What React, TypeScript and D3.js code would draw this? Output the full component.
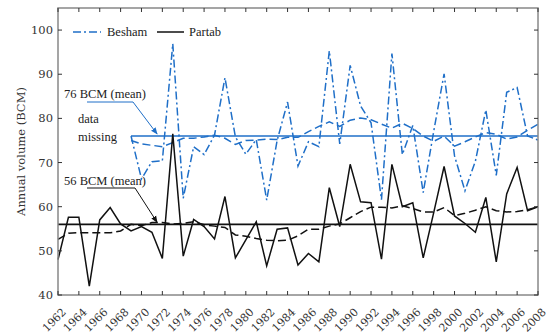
import * as d3 from "d3";

// years on the x axis
const partabYears = d3.range(1962, 2009);
const beshamYears = d3.range(1969, 2009);

const partab = [
  48.0, 57.6, 57.6, 42.0, 57.0, 59.8, 56.1, 54.5, 55.5, 54.2,
  48.3, 76.5, 48.8, 57.1, 55.5, 52.7, 62.3, 48.4, 52.5, 56.6,
  46.6, 54.9, 55.2, 46.8, 49.4, 47.5, 64.3, 55.5, 69.6, 61.1,
  60.9, 48.1, 69.6, 60.0, 60.9, 48.4, 58.6, 69.1, 57.9, 56.2,
  54.2, 62.1, 47.5, 62.9, 68.9, 59.1, 60.0,
];
const partabAvg = [
  52.6, 54.0, 54.1, 54.1, 54.1, 54.1, 54.5, 56.0, 55.7, 56.4,
  56.4, 56.1, 56.2, 56.6, 55.9, 55.6, 55.3, 53.6, 53.3, 52.8,
  52.4, 52.3, 52.4, 53.4, 54.9, 54.9, 55.6, 56.1, 57.5, 58.9,
  59.9, 59.9, 59.7, 60.2, 59.6, 58.8, 58.8, 59.8, 58.0, 58.5,
  59.2, 60.0, 59.1, 58.8, 58.9, 59.3, 60.0,
];
const besham = [
  76.0, 66.3, 70.2, 70.4, 96.9, 61.9, 73.6, 71.8, 76.2, 89.2,
  75.8, 71.9, 75.2, 61.5, 75.0, 83.7, 69.2, 74.7, 73.6, 95.3,
  74.2, 92.0, 82.8, 79.0, 61.6, 94.7, 71.8, 78.4, 63.2, 77.0,
  90.1, 71.5, 63.6, 70.3, 81.9, 67.1, 85.9, 87.0, 76.0, 75.1,
];
const beshamAvg = [
  75.0, 74.2, 73.9, 73.6, 74.5, 75.5, 75.5, 75.8, 76.2, 75.5,
  74.1, 75.0, 75.1, 75.3, 75.2, 75.7, 75.7, 77.0, 78.2, 79.2,
  78.2, 79.6, 80.1, 79.7, 78.7, 77.8, 78.9, 77.7, 76.0, 74.8,
  76.0, 73.7, 74.7, 75.8, 76.8, 76.4, 75.3, 75.8, 77.3, 78.7,
];
const beshamMean = 76;
const partabMean = 56;

const yTicks = [40, 50, 60, 70, 80, 90, 100];
const xTicks = d3.range(1962, 2009, 2);

const BLUE = "#1f6fc8";
const NUM_FONT = "'DejaVu Serif', serif";
const WORD_FONT = "'Liberation Serif', 'DejaVu Serif', serif";

export default function App() {
  const W = 550, H = 335;
  const left = 58, right = 538, top = 8, bottom = 295;
  const x = d3.scaleLinear().domain([1962, 2008]).range([left, right]);
  const y = d3.scaleLinear().domain([40, 105]).range([bottom, top]);

  const line = d3.line<[number, number]>().x((d) => x(d[0])).y((d) => y(d[1]));
  const pts = (yrs: number[], vals: number[]) => yrs.map((yr, i) => [yr, vals[i]] as [number, number]);
  const num = { fontFamily: NUM_FONT };
  const word = { fontFamily: WORD_FONT };

  return (
    <svg width={W} height={H} style={{ position: "absolute", left: 0, top: 0, background: "#fff" }}>
      {/* mean lines */}
      <line x1={x(1969)} x2={x(2008)} y1={y(beshamMean)} y2={y(beshamMean)} stroke={BLUE} strokeWidth={1.6} />
      <line x1={x(1962)} x2={x(2008)} y1={y(partabMean)} y2={y(partabMean)} stroke="#111" strokeWidth={1.6} />

      {/* moving averages */}
      <path d={line(pts(beshamYears, beshamAvg)) ?? ""} fill="none" stroke={BLUE} strokeWidth={1.5} strokeDasharray="8,4" />
      <path d={line(pts(partabYears, partabAvg)) ?? ""} fill="none" stroke="#111" strokeWidth={1.5} strokeDasharray="8,4" />

      {/* series */}
      <path d={line(pts(beshamYears, besham)) ?? ""} fill="none" stroke={BLUE} strokeWidth={1.5} strokeDasharray="8,3,2,3" />
      <path d={line(pts(partabYears, partab)) ?? ""} fill="none" stroke="#111" strokeWidth={1.5} />

      {/* frame + ticks */}
      <rect x={left} y={top} width={right - left} height={bottom - top} fill="none" stroke="#888" strokeWidth={1.5} />
      {xTicks.map((t) => (
        <g key={t}>
          <line x1={x(t)} x2={x(t)} y1={bottom} y2={bottom - 4} stroke="#333" />
          <line x1={x(t)} x2={x(t)} y1={top} y2={top + 4} stroke="#333" />
          <text transform={`translate(${x(t) + 6},${bottom + 15}) rotate(-45)`} textAnchor="end" dy="0.35em"
                fontSize={11} fill="#333" style={num}>{t}</text>
        </g>
      ))}
      {yTicks.map((t) => (
        <g key={t}>
          <line x1={left} x2={left + 4} y1={y(t)} y2={y(t)} stroke="#333" />
          <line x1={right} x2={right - 4} y1={y(t)} y2={y(t)} stroke="#333" />
          <text x={left - 5} y={y(t)} dy="0.35em" textAnchor="end" fontSize={11.5} fill="#333" style={num}>{t}</text>
        </g>
      ))}
      <text transform={`translate(21,${(top + bottom) / 2}) rotate(-90)`} textAnchor="middle" dy="0.35em"
            fontSize={11.5} fill="#333" style={num}>Annual volume (BCM)</text>

      {/* legend */}
      <line x1={73} x2={101} y1={32} y2={32} stroke={BLUE} strokeWidth={1.5} strokeDasharray="8,3,2,3" />
      <text x={107} y={36} fontSize={12.5} fill="#222" style={word}>Besham</text>
      <line x1={157} x2={184} y1={32} y2={32} stroke="#111" strokeWidth={1.5} />
      <text x={189} y={36} fontSize={12.5} fill="#222" style={word}>Partab</text>

      {/* annotations */}
      <defs>
        <marker id="ab" viewBox="0 0 10 10" refX={9} refY={5} markerWidth={7} markerHeight={7} orient="auto">
          <path d="M0,1 L10,5 L0,9 z" fill={BLUE} />
        </marker>
        <marker id="ak" viewBox="0 0 10 10" refX={9} refY={5} markerWidth={7} markerHeight={7} orient="auto">
          <path d="M0,1 L10,5 L0,9 z" fill="#111" />
        </marker>
      </defs>
      <text x={64} y={98} fontSize={12.5} fill="#222" style={word}>76 BCM (mean)</text>
      <polyline points={`87,102 133,102 ${x(1971.5)},${y(beshamMean) - 2}`} fill="none" stroke={BLUE} strokeWidth={1} markerEnd="url(#ab)" />
      <text x={78} y={123} fontSize={12.5} fill="#222" style={word}>data</text>
      <text x={78} y={141} fontSize={12.5} fill="#222" style={word}>missing</text>
      <text x={64} y={185} fontSize={12.5} fill="#222" style={word}>56 BCM (mean)</text>
      <polyline points={`87,188 135,188 ${x(1971.5)},${y(partabMean) - 2}`} fill="none" stroke="#111" strokeWidth={1} markerEnd="url(#ak)" />
    </svg>
  );
}
